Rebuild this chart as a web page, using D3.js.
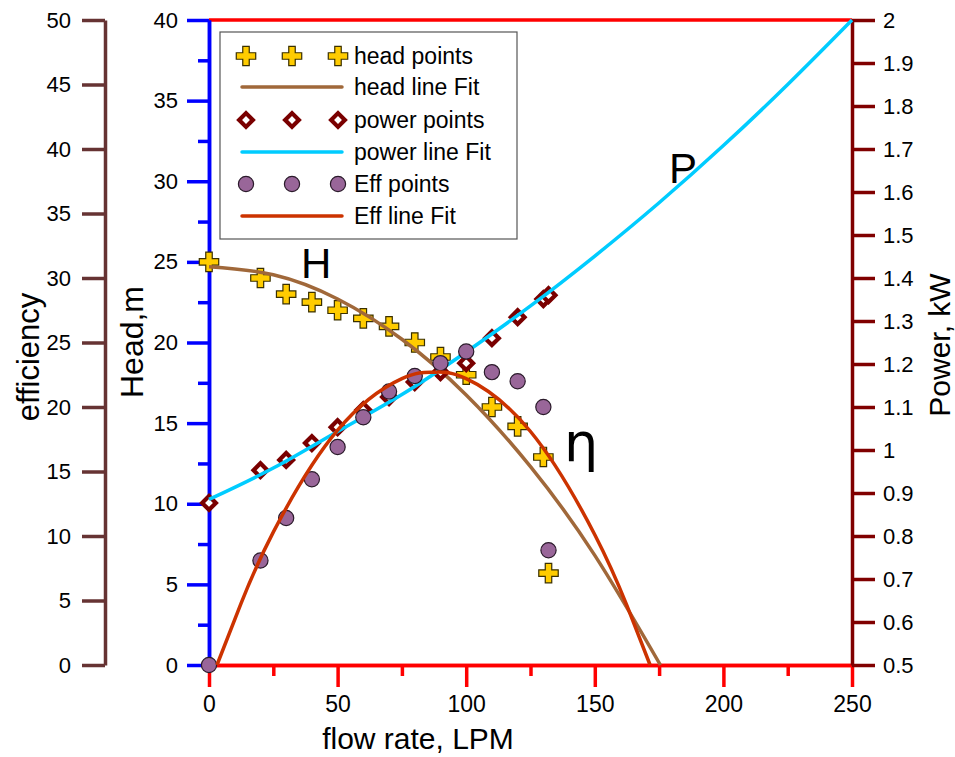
<!DOCTYPE html>
<html><head><meta charset="utf-8">
<script src="https://cdn.jsdelivr.net/npm/d3@7"></script>
<style>body{margin:0;background:#fff} svg{display:block} text{font-family:"Liberation Sans",Arial,sans-serif}</style>
</head><body><svg id="c" width="955" height="757"></svg>
<script>
// ---- data ----
const flow = [0,20,30,40,50,60,70,80,90,100,110,120,130,132];
const headPts = [25.0,24.0,23.0,22.5,22.0,21.5,21.0,20.0,19.1,18.0,16.0,14.8,12.9,5.7];
const powerPts = [0.877,0.953,0.977,1.016,1.053,1.093,1.123,1.158,1.181,1.202,1.260,1.309,1.351,1.360];
const effPts = [0,8.1,11.4,14.4,16.9,19.2,21.2,22.4,23.4,24.3,22.7,22.0,20.0,8.9];

const headFitX = [0,25,50,75,100,125,150,175.5];
const headFitY = [24.7,24.2,22.7,20.2,16.75,12.3,6.8,0];
const powerFitX = [0,25,50,75,100,125,150,175,200,225,250];
const powerFitY = [0.885,0.958,1.043,1.129,1.228,1.335,1.451,1.575,1.708,1.850,2.0];
const effFitX = [3.1,12.5,25,50,75,87.3,100,125,150,162.5,171.5];
const effFitY = [0,4.8,10.3,18.2,22.2,22.7,22.2,18.1,10.1,4.6,0];

const xMajor = [0,50,100,150,200,250];
const xMinor = [25,75,125,175,225];
const headMajor = [0,5,10,15,20,25,30,35,40];
const headMinor = [2.5,7.5,12.5,17.5,22.5,27.5,32.5,37.5];
const effTicks = [0,5,10,15,20,25,30,35,40,45,50];
const powerTicks = [0.5,0.6,0.7,0.8,0.9,1.0,1.1,1.2,1.3,1.4,1.5,1.6,1.7,1.8,1.9,2.0];

const legendItems = [
  {label:"head points", kind:"cross"},
  {label:"head line Fit", kind:"line", color:"#A0683A"},
  {label:"power points", kind:"diamond"},
  {label:"power line Fit", kind:"line", color:"#00CCFF"},
  {label:"Eff points", kind:"circle"},
  {label:"Eff line Fit", kind:"line", color:"#CC3300"}
];

// ---- layout ----
const svg = d3.select("#c");
const x = d3.scaleLinear([0,250],[209,852]);
const yH = d3.scaleLinear([0,40],[665,20]);
const yE = d3.scaleLinear([0,50],[665,20]);
const yP = d3.scaleLinear([0.5,2],[665,20]);

const C = {head:"#A0683A", power:"#00CCFF", eff:"#CC3300", blue:"#0000FF", red:"#FF0000", pAx:"#800000", eAx:"#663333"};

function styleAxis(g, color, w, fs){
  g.selectAll(".domain").attr("stroke",color).attr("stroke-width",w);
  g.selectAll(".tick line").attr("stroke",color).attr("stroke-width",w);
  g.selectAll(".tick text").attr("fill","#000").style("font-size",fs+"px").style("font-family","'Liberation Sans',Arial,sans-serif");
}

// x axis (bottom, red)
const gx = svg.append("g").attr("transform","translate(0,665)")
  .call(d3.axisBottom(x).tickValues(xMajor).tickSize(22).tickSizeOuter(0).tickPadding(9).tickFormat(d3.format("d")));
styleAxis(gx, C.red, 3.5, 23);
const gxm = svg.append("g").attr("transform","translate(0,665)")
  .call(d3.axisBottom(x).tickValues(xMinor).tickSize(11).tickSizeOuter(0).tickFormat(""));
styleAxis(gxm, C.red, 3.5, 23);
// top frame
svg.append("line").attr("x1",x(0)).attr("x2",x(250)).attr("y1",yH(40)).attr("y2",yH(40)).attr("stroke",C.red).attr("stroke-width",3.5);

// efficiency axis (far left)
const ge = svg.append("g").attr("transform","translate(105,0)")
  .call(d3.axisLeft(yE).tickValues(effTicks).tickSize(23).tickSizeOuter(0).tickPadding(11).tickFormat(d3.format("d")));
styleAxis(ge, C.eAx, 3.5, 22);

// power axis (right)
const gp = svg.append("g").attr("transform","translate(852,0)")
  .call(d3.axisRight(yP).tickValues(powerTicks).tickSize(23).tickSizeOuter(0).tickPadding(8).tickFormat(d=>String(+d.toFixed(1))));
styleAxis(gp, C.pAx, 3.5, 22);

// head axis (blue)
const gh = svg.append("g").attr("transform","translate(209,0)")
  .call(d3.axisLeft(yH).tickValues(headMajor).tickSize(22).tickSizeOuter(0).tickPadding(9).tickFormat(d3.format("d")));
styleAxis(gh, C.blue, 3.5, 22);
const ghm = svg.append("g").attr("transform","translate(209,0)")
  .call(d3.axisLeft(yH).tickValues(headMinor).tickSize(11).tickSizeOuter(0).tickFormat(""));
styleAxis(ghm, C.blue, 3.5, 22);

// axis titles
svg.append("text").attr("x",418).attr("y",749).attr("text-anchor","middle").style("font-size","30px").text("flow rate, LPM");
svg.append("text").attr("transform","translate(39,357) rotate(-90)").attr("text-anchor","middle").style("font-size","31px").text("efficiency");
svg.append("text").attr("transform","translate(143,342) rotate(-90)").attr("text-anchor","middle").style("font-size","32px").text("Head,m");
svg.append("text").attr("transform","translate(950,345) rotate(-90)").attr("text-anchor","middle").style("font-size","30px").text("Power, kW");

// ---- series ----
const data = flow.map((f,i)=>({f, h:headPts[i], p:powerPts[i], e:effPts[i]}));
const lineGen = (xs, ys, ys_scale) => d3.line().x((d,i)=>x(xs[i])).y((d,i)=>ys_scale(ys[i])).curve(d3.curveNatural)(xs);

const crossSym = d3.symbol().type(d3.symbolCross).size(210);
const diamondSym = d3.symbol().type(d3.symbolSquare).size(95);

function drawCross(g, cx, cy){
  g.append("path").attr("d",crossSym()).attr("transform",`translate(${cx},${cy})`)
   .attr("fill","#FFCC00").attr("stroke","#3a3000").attr("stroke-width",1.2);
}
function drawDiamond(g, cx, cy){
  g.append("path").attr("d",diamondSym()).attr("transform",`translate(${cx},${cy}) rotate(45)`)
   .attr("fill","#fff").attr("stroke","#7A0000").attr("stroke-width",4.2);
}
function drawCircle(g, cx, cy){
  g.append("circle").attr("cx",cx).attr("cy",cy).attr("r",7.6)
   .attr("fill","#996699").attr("stroke","#2a1a2a").attr("stroke-width",1.2);
}

const plot = svg.append("g");
data.forEach(d=>drawCross(plot, x(d.f), yH(d.h)));
plot.append("path").attr("d",lineGen(headFitX, headFitY, yH)).attr("fill","none").attr("stroke",C.head).attr("stroke-width",3.5);
data.forEach(d=>drawDiamond(plot, x(d.f), yP(d.p)));
plot.append("path").attr("d",lineGen(powerFitX, powerFitY, yP)).attr("fill","none").attr("stroke",C.power).attr("stroke-width",3.5);
data.forEach(d=>drawCircle(plot, x(d.f), yE(d.e)));
plot.append("path").attr("d",lineGen(effFitX, effFitY, yE)).attr("fill","none").attr("stroke",C.eff).attr("stroke-width",3.5);

// curve labels
svg.append("text").attr("x",301).attr("y",278).style("font-size","42px").text("H");
svg.append("text").attr("x",669).attr("y",183).style("font-size","42px").text("P");
svg.append("text").attr("x",564).attr("y",461).style("font-size","54px").style("font-family","'DejaVu Sans',sans-serif").text("η");

// ---- legend ----
const lg = svg.append("g");
lg.append("rect").attr("x",220).attr("y",32).attr("width",297).attr("height",207)
  .attr("fill","#fff").attr("stroke","#555").attr("stroke-width",1.2);
const rowY = [56,87,120,152,184,216];
legendItems.forEach((it,i)=>{
  const yy = rowY[i];
  if(it.kind==="line"){
    lg.append("line").attr("x1",242).attr("x2",342).attr("y1",yy).attr("y2",yy)
      .attr("stroke",it.color).attr("stroke-width",3.5).attr("stroke-linecap","round");
  } else {
    [246,292,338].forEach(cx=>{
      if(it.kind==="cross") drawCross(lg,cx,yy);
      else if(it.kind==="diamond") drawDiamond(lg,cx,yy);
      else drawCircle(lg,cx,yy);
    });
  }
  lg.append("text").attr("x",354).attr("y",yy+8).style("font-size","23px").text(it.label);
});
</script></body></html>
